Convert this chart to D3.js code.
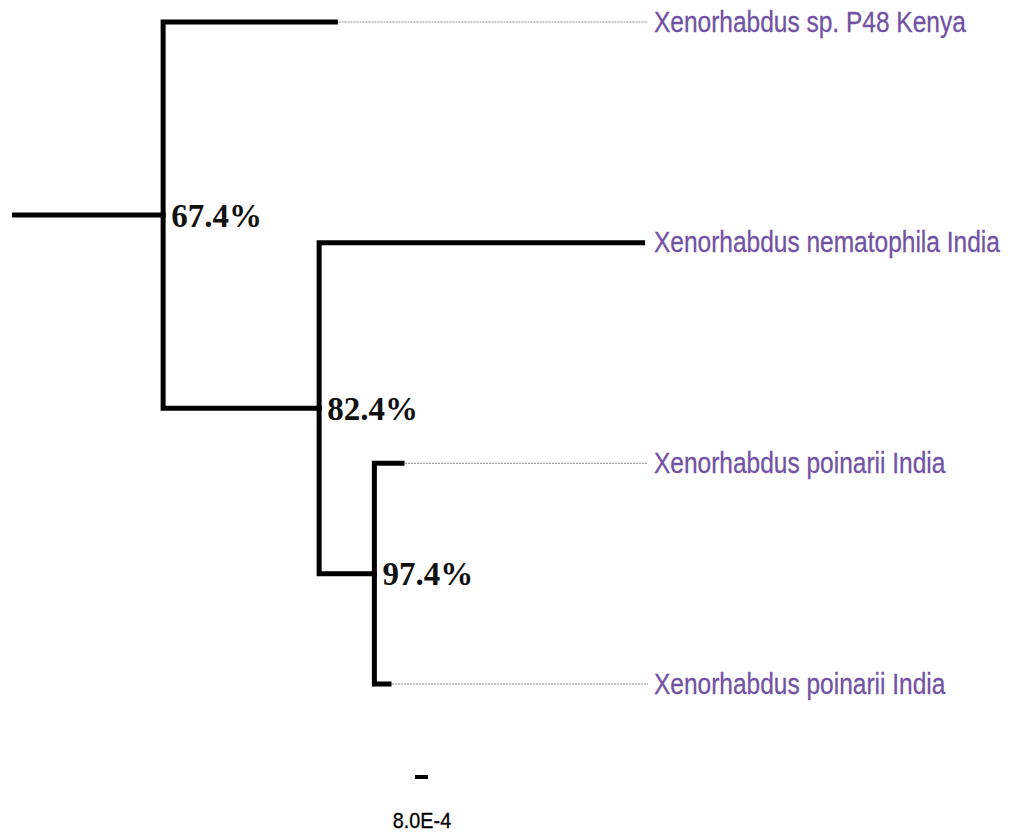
<!DOCTYPE html>
<html>
<head>
<meta charset="utf-8">
<script src="https://cdn.jsdelivr.net/npm/d3@7"></script>
<style>
  body { margin: 0; background: #fff; }
  svg { display: block; }
</style>
</head>
<body>
<div id="chart"></div>
<script>
// taxa, top to bottom
var taxa = [
  "Xenorhabdus sp. P48 Kenya",
  "Xenorhabdus nematophila India",
  "Xenorhabdus poinarii India",
  "Xenorhabdus poinarii India"
];
// branch lengths (substitutions/site)
var rootLength = 0.0093;
var leafLengths = [0.0106, 0.0199, 0.0017, 0.0009];
var innerLengths = [0.0096, 0.0034];   // (nema,(poi,poi)) and (poi,poi)
// bootstrap support for internal nodes, outer to inner
var support = ["67.4%", "82.4%", "97.4%"];
var scaleValue = 0.0008;
var scaleLabel = "8.0E-4";

var width = 1012, height = 836;

// build tree ((A,(B,(C,D))))
var treeData = {
  len: rootLength, support: support[0], children: [
    {name: taxa[0], leaf: 0, len: leafLengths[0]},
    {len: innerLengths[0], support: support[1], children: [
      {name: taxa[1], leaf: 1, len: leafLengths[1]},
      {len: innerLengths[1], support: support[2], children: [
        {name: taxa[2], leaf: 2, len: leafLengths[2]},
        {name: taxa[3], leaf: 3, len: leafLengths[3]}
      ]}
    ]}
  ]
};

var root = d3.hierarchy(treeData);
root.each(function(d){
  d.depthLen = (d.parent ? d.parent.depthLen : 0) + d.data.len;
});

var x = d3.scaleLinear().domain([0, scaleValue]).range([0, 13.0]);
var x0 = 12;
var y = d3.scaleLinear().domain([0, taxa.length - 1]).range([22, 684]);

// y positions: leaves by index, internal nodes at midpoint of children
root.eachAfter(function(d){
  if (d.children) {
    d.py = (d.children[0].py + d.children[d.children.length - 1].py) / 2;
  } else {
    d.py = y(d.data.leaf);
  }
  d.px = x0 + x(d.depthLen);
});

var svg = d3.select("#chart").append("svg")
  .attr("width", width).attr("height", height);

var lineW = 5;
var labelX = 654;
var dotEnd = 648;
var squeeze = 0.845;   // condensed label face

// root stem
svg.append("line")
  .attr("x1", x0).attr("x2", root.px)
  .attr("y1", root.py).attr("y2", root.py)
  .attr("stroke", "#000").attr("stroke-width", lineW);

// branches
root.descendants().forEach(function(d){
  if (d.parent) {
    svg.append("path")
      .attr("d", "M" + d.parent.px + "," + d.parent.py + "V" + d.py + "H" + d.px)
      .attr("fill", "none")
      .attr("stroke", "#000")
      .attr("stroke-width", lineW)
      .attr("stroke-linecap", "square")
      .attr("stroke-linejoin", "miter");
  }
});

// dotted guides and labels
root.leaves().forEach(function(d){
  if (d.px < dotEnd - 10) {
    svg.append("line")
      .attr("x1", d.px + 3).attr("x2", dotEnd)
      .attr("y1", d.py).attr("y2", d.py)
      .attr("stroke", "#8a8a8a").attr("stroke-width", 1)
      .attr("stroke-dasharray", "2,1");
  }
  svg.append("g")
    .attr("transform", "translate(" + labelX + "," + (d.py + 9.5) + ") scale(" + squeeze + ",1)")
    .append("text")
    .attr("x", 0).attr("y", 0)
    .attr("font-family", "'Liberation Sans', Arial, sans-serif")
    .attr("font-size", 29)
    .attr("fill", "#7152a3")
    .attr("stroke", "#7152a3")
    .attr("stroke-width", 0.3)
    .text(d.data.name);
});

// bootstrap values
root.descendants().filter(function(d){ return d.children; }).forEach(function(d){
  svg.append("text")
    .attr("x", d.px + 8).attr("y", d.py + 11.5)
    .attr("font-family", "'Liberation Serif', 'Times New Roman', serif")
    .attr("font-weight", "bold")
    .attr("font-size", 33)
    .attr("fill", "#111")
    .text(d.data.support);
});

// scale bar
var sbX = 415, sbY = 777;
svg.append("line")
  .attr("x1", sbX).attr("x2", sbX + x(scaleValue))
  .attr("y1", sbY).attr("y2", sbY)
  .attr("stroke", "#000").attr("stroke-width", 4);
svg.append("g")
  .attr("transform", "translate(422,828) scale(0.9,1)")
  .append("text")
  .attr("x", 0).attr("y", 0)
  .attr("text-anchor", "middle")
  .attr("font-family", "'Liberation Sans', Arial, sans-serif")
  .attr("font-size", 22)
  .attr("fill", "#000")
  .attr("stroke", "#000")
  .attr("stroke-width", 0.3)
  .text(scaleLabel);
</script>
</body>
</html>
